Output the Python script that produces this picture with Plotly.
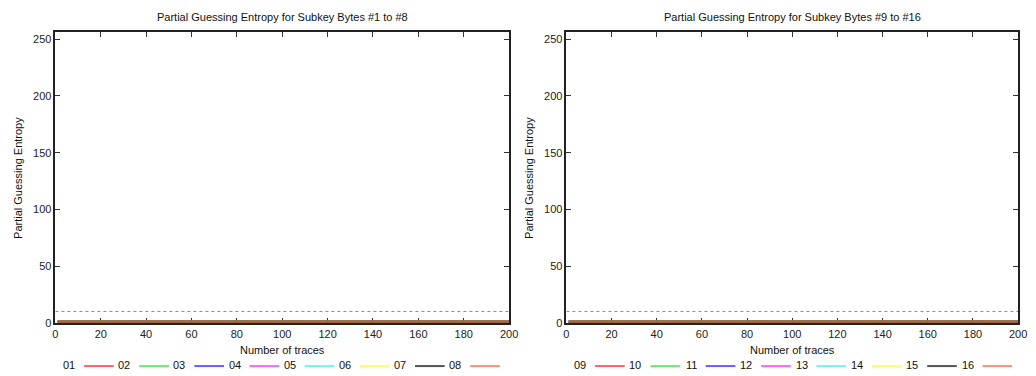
import plotly.graph_objects as go

# Number of traces used for the attack
num_traces = [1, 10, 20, 30, 40, 50, 60, 70, 80, 90, 100,
              110, 120, 130, 140, 150, 160, 170, 180, 190, 200]

# Partial guessing entropy per subkey byte (rows = bytes)
ge_bytes_01_08 = [
    [1, 1, 1, 1, 1, 1, 1, 1, 1, 1, 1, 1, 1, 1, 1, 1, 1, 1, 1, 1, 1],
    [1, 1, 1, 1, 1, 1, 1, 1, 1, 1, 1, 1, 1, 1, 1, 1, 1, 1, 1, 1, 1],
    [1, 1, 1, 1, 1, 1, 1, 1, 1, 1, 1, 1, 1, 1, 1, 1, 1, 1, 1, 1, 1],
    [1, 1, 1, 1, 1, 1, 1, 1, 1, 1, 1, 1, 1, 1, 1, 1, 1, 1, 1, 1, 1],
    [1, 1, 1, 1, 1, 1, 1, 1, 1, 1, 1, 1, 1, 1, 1, 1, 1, 1, 1, 1, 1],
    [1, 1, 1, 1, 1, 1, 1, 1, 1, 1, 1, 1, 1, 1, 1, 1, 1, 1, 1, 1, 1],
    [1, 1, 1, 1, 1, 1, 1, 1, 1, 1, 1, 1, 1, 1, 1, 1, 1, 1, 1, 1, 1],
    [1, 1, 1, 1, 1, 1, 1, 1, 1, 1, 1, 1, 1, 1, 1, 1, 1, 1, 1, 1, 1],
]
ge_bytes_09_16 = [
    [1, 1, 1, 1, 1, 1, 1, 1, 1, 1, 1, 1, 1, 1, 1, 1, 1, 1, 1, 1, 1],
    [1, 1, 1, 1, 1, 1, 1, 1, 1, 1, 1, 1, 1, 1, 1, 1, 1, 1, 1, 1, 1],
    [1, 1, 1, 1, 1, 1, 1, 1, 1, 1, 1, 1, 1, 1, 1, 1, 1, 1, 1, 1, 1],
    [1, 1, 1, 1, 1, 1, 1, 1, 1, 1, 1, 1, 1, 1, 1, 1, 1, 1, 1, 1, 1],
    [1, 1, 1, 1, 1, 1, 1, 1, 1, 1, 1, 1, 1, 1, 1, 1, 1, 1, 1, 1, 1],
    [1, 1, 1, 1, 1, 1, 1, 1, 1, 1, 1, 1, 1, 1, 1, 1, 1, 1, 1, 1, 1],
    [1, 1, 1, 1, 1, 1, 1, 1, 1, 1, 1, 1, 1, 1, 1, 1, 1, 1, 1, 1, 1],
    [1, 1, 1, 1, 1, 1, 1, 1, 1, 1, 1, 1, 1, 1, 1, 1, 1, 1, 1, 1, 1],
]
labels_01_08 = ["01", "02", "03", "04", "05", "06", "07", "08"]
labels_09_16 = ["09", "10", "11", "12", "13", "14", "15", "16"]

# Dotted reference level
threshold = 10

titles = ["Partial Guessing Entropy for Subkey Bytes #1 to #8",
          "Partial Guessing Entropy for Subkey Bytes #9 to #16"]

line_colors = ["#ff0000", "#00e000", "#0000ff", "#ff00ff",
               "#00e0ff", "#ffff00", "#000000", "#ff4d00"]
key_colors = ["#ff6060", "#66f066", "#6060ff", "#ff66ff",
              "#70f4ff", "#ffff66", "#555555", "#ff9070"]

W, H = 1036, 376
FONT = "Liberation Sans, Arial, sans-serif"

fig = go.Figure()

panels = [
    dict(series=ge_bytes_01_08, labels=labels_01_08, xa="x", ya="y",
         dom=(53, 512), key_x0=68, key_dx=55.8),
    dict(series=ge_bytes_09_16, labels=labels_09_16, xa="x2", ya="y2",
         dom=(570, 1027), key_x0=585, key_dx=56.0),
]

plot_top, plot_bottom = 33, 328

annotations = []
shapes = []

for p_i, p in enumerate(panels):
    # threshold line
    fig.add_trace(go.Scatter(
        x=[num_traces[0] - 1, num_traces[-1]], y=[threshold, threshold],
        mode="lines", line=dict(color="#8a8a8a", width=1, dash="dot"),
        xaxis=p["xa"], yaxis=p["ya"], showlegend=False, hoverinfo="skip"))
    for s_i, vals in enumerate(p["series"]):
        fig.add_trace(go.Scatter(
            x=num_traces, y=vals, mode="lines", name=p["labels"][s_i],
            line=dict(color=line_colors[s_i], width=1.8),
            xaxis=p["xa"], yaxis=p["ya"], showlegend=False,
            cliponaxis=False))

    # panel title
    cx = (p["dom"][0] + p["dom"][1]) / 2
    annotations.append(dict(
        text=titles[p_i], x=cx / W, y=1 - 17 / H, xref="paper", yref="paper",
        showarrow=False, xanchor="center", yanchor="middle",
        font=dict(family=FONT, size=11, color="#111")))
    # axis titles
    annotations.append(dict(
        text="Number of traces", x=cx / W, y=1 - 356 / H, xref="paper",
        yref="paper", showarrow=False, xanchor="center", yanchor="middle",
        font=dict(family=FONT, size=11, color="#111")))
    annotations.append(dict(
        text="Partial Guessing Entropy", x=(p["dom"][0] - 38) / W,
        y=1 - 181 / H, xref="paper", yref="paper", showarrow=False,
        textangle=-90, xanchor="center", yanchor="middle",
        font=dict(family=FONT, size=11, color="#111")))

    # key: label followed by a line sample
    for s_i, lab in enumerate(p["labels"]):
        lx = p["key_x0"] + s_i * p["key_dx"]
        annotations.append(dict(
            text=lab, x=(lx + 7) / W, y=1 - 371 / H, xref="paper",
            yref="paper", showarrow=False, xanchor="right", yanchor="middle",
            font=dict(family=FONT, size=11, color="#111")))
        shapes.append(dict(
            type="line", xref="paper", yref="paper",
            x0=(lx + 14) / W, x1=(lx + 44) / W,
            y0=1 - 372 / H, y1=1 - 372 / H,
            line=dict(color=key_colors[s_i], width=2)))

axis_common = dict(
    showgrid=False, zeroline=False, showline=True, linecolor="#222",
    linewidth=1.5, mirror="ticks", ticks="inside", ticklen=5,
    tickcolor="#333", tickwidth=1, layer="below traces",
    tickfont=dict(family=FONT, size=11, color="#222"))

y_dom = ((H - plot_bottom) / H, (H - plot_top) / H)

fig.update_layout(
    width=W, height=H, margin=dict(l=0, r=0, t=0, b=0),
    paper_bgcolor="white", plot_bgcolor="white",
    annotations=annotations, shapes=shapes,
    xaxis=dict(domain=(panels[0]["dom"][0] / W, panels[0]["dom"][1] / W),
               range=[0, 200], tickvals=list(range(0, 201, 20)),
               anchor="y", **axis_common),
    yaxis=dict(domain=y_dom, range=[0, 256],
               tickvals=[0, 50, 100, 150, 200, 250], anchor="x",
               **axis_common),
    xaxis2=dict(domain=(panels[1]["dom"][0] / W, panels[1]["dom"][1] / W),
                range=[0, 200], tickvals=list(range(0, 201, 20)),
                anchor="y2", **axis_common),
    yaxis2=dict(domain=y_dom, range=[0, 256],
                tickvals=[0, 50, 100, 150, 200, 250], anchor="x2",
                **axis_common),
)

fig.write_html(
    "out.html",
    post_script="document.body.style.margin='0';"
                "document.body.style.overflow='hidden';")
